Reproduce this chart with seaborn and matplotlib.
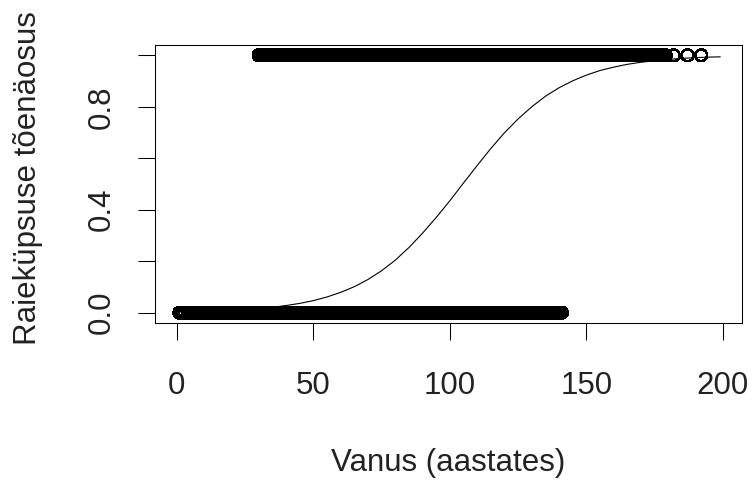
import matplotlib
matplotlib.use("Agg")
import matplotlib.pyplot as plt
import seaborn as sns
import pandas as pd

# ---- data ----
# ages (years) of stands not yet ripe for cutting (response 0)
age_y0 = [1, 2, 3, 4, 5, 6, 7, 8, 9, 10, 11, 12, 13, 14, 15, 16, 17, 18, 19, 20,
          21, 22, 23, 24, 25, 26, 27, 28, 29, 30, 31, 32, 33, 34, 35, 36, 37, 38, 39, 40,
          41, 42, 43, 44, 45, 46, 47, 48, 49, 50, 51, 52, 53, 54, 55, 56, 57, 58, 59, 60,
          61, 62, 63, 64, 65, 66, 67, 68, 69, 70, 71, 72, 73, 74, 75, 76, 77, 78, 79, 80,
          81, 82, 83, 84, 85, 86, 87, 88, 89, 90, 91, 92, 93, 94, 95, 96, 97, 98, 99, 100,
          101, 102, 103, 104, 105, 106, 107, 108, 109, 110, 111, 112, 113, 114, 115, 116, 117, 118, 119, 120,
          121, 122, 123, 124, 125, 126, 127, 128, 129, 130, 131, 132, 133, 134, 135, 136, 137, 138, 139, 140, 141]
# ages of stands ripe for cutting (response 1)
age_y1 = [30, 31, 32, 33, 34, 35, 36, 37, 38, 39, 40, 41, 42, 43, 44, 45, 46, 47, 48, 49,
          50, 51, 52, 53, 54, 55, 56, 57, 58, 59, 60, 61, 62, 63, 64, 65, 66, 67, 68, 69,
          70, 71, 72, 73, 74, 75, 76, 77, 78, 79, 80, 81, 82, 83, 84, 85, 86, 87, 88, 89,
          90, 91, 92, 93, 94, 95, 96, 97, 98, 99, 100, 101, 102, 103, 104, 105, 106, 107, 108, 109,
          110, 111, 112, 113, 114, 115, 116, 117, 118, 119, 120, 121, 122, 123, 124, 125, 126, 127, 128, 129,
          130, 131, 132, 133, 134, 135, 136, 137, 138, 139, 140, 141, 142, 143, 144, 145, 146, 147, 148, 149,
          150, 151, 152, 153, 154, 155, 156, 157, 158, 159, 160, 161, 162, 163, 164, 165, 166, 167, 168, 169,
          170, 171, 172, 173, 174, 175, 176, 177, 178, 179, 182, 187, 192]

# fitted probability curve
curve_age = [0, 5, 10, 15, 20, 25, 30, 35, 40, 45, 50, 55, 60, 65, 70, 75, 80, 85, 90, 95,
             100, 105, 110, 115, 120, 125, 130, 135, 140, 145, 150, 155, 160, 165, 170, 175,
             180, 185, 190, 195, 199]
curve_p = [0.003, 0.004, 0.005, 0.007, 0.009, 0.012, 0.016, 0.021, 0.028, 0.036, 0.047,
           0.061, 0.079, 0.101, 0.129, 0.163, 0.204, 0.253, 0.309, 0.370, 0.435, 0.504,
           0.572, 0.638, 0.699, 0.753, 0.800, 0.841, 0.874, 0.901, 0.923, 0.941, 0.954,
           0.965, 0.973, 0.979, 0.984, 0.988, 0.991, 0.993, 0.994]

x_ticks = [0, 50, 100, 150, 200]
y_ticks = [0.0, 0.2, 0.4, 0.6, 0.8, 1.0]
y_tick_labels = ["0.0", "", "0.4", "", "0.8", ""]
x_label = "Vanus (aastates)"
y_label = "Raieküpsuse tõenäosus"

points = pd.DataFrame({
    "age": age_y0 + age_y1,
    "y": [0] * len(age_y0) + [1] * len(age_y1),
})
curve = pd.DataFrame({"age": curve_age, "p": curve_p})

# ---- styling ----
sns.set_theme(style="white")
plt.rcParams["font.family"] = ["Liberation Sans", "DejaVu Sans"]
plt.rcParams["axes.edgecolor"] = "black"
plt.rcParams["axes.linewidth"] = 0.75

FS = 22.5
TXT = "#222222"

fig = plt.figure(figsize=(7.55, 4.8), dpi=100)
ax = fig.add_axes([155 / 755, 1 - 323 / 480, (742 - 155) / 755, (323 - 45) / 480])

sns.scatterplot(data=points, x="age", y="y", ax=ax, marker="o", s=72,
                facecolor="none", edgecolor="black", linewidth=1.1,
                antialiased=False, legend=False)
sns.lineplot(data=curve, x="age", y="p", ax=ax, color="black", linewidth=0.8)

ax.set_xlim(-7.96, 206.96)
ax.set_ylim(-0.04, 1.04)
ax.set_xticks(x_ticks)
ax.set_xticklabels([str(t) for t in x_ticks])
ax.set_yticks(y_ticks)
ax.set_yticklabels(y_tick_labels, rotation=90, va="center")

ax.tick_params(axis="both", direction="out", length=12.5, width=0.75,
               color="black", labelcolor=TXT, labelsize=FS,
               bottom=True, left=True)
ax.tick_params(axis="x", pad=22)
ax.tick_params(axis="y", pad=15)

for s in ax.spines.values():
    s.set_visible(True)
    s.set_color("black")
    s.set_linewidth(0.75)

ax.set_xlabel(x_label, fontsize=FS, color=TXT)
ax.set_ylabel(y_label, fontsize=FS, color=TXT)
ax.xaxis.set_label_coords(0.5, -0.45)
ax.yaxis.set_label_coords(-0.1908, 0.52)
ax.grid(False)

fig.savefig("out.png", dpi=100, facecolor="white")
